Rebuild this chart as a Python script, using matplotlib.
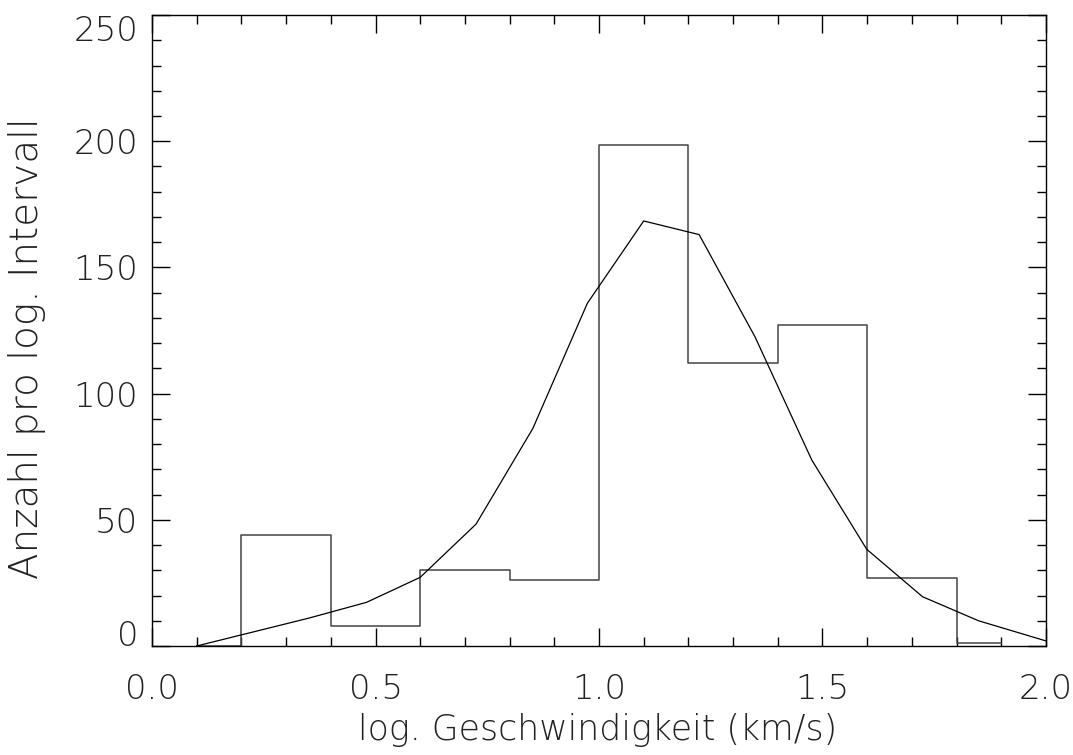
import matplotlib
matplotlib.use("Agg")
import matplotlib.pyplot as plt
from matplotlib.ticker import MultipleLocator

plt.rcParams['font.family'] = ['DejaVu Sans']
TXT = dict(fontweight=200, color='#222222')

# histogram (bin centres, counts) drawn IDL psym=10 style
hist_x = [0.1, 0.3, 0.5, 0.7, 0.9, 1.1, 1.3, 1.5, 1.7, 1.9]
hist_y = [0, 44, 8, 30, 26, 198.5, 112, 127, 27, 1]

# smooth comparison curve
curve_x = [0.1, 0.225, 0.35, 0.48, 0.6, 0.725, 0.852, 0.974, 1.1, 1.224,
           1.349, 1.476, 1.599, 1.724, 1.849, 2.0]
curve_y = [0, 5.5, 11, 17.3, 27.2, 48.3, 86.2, 135.8, 168.4, 163,
           122.5, 73.7, 38.3, 19.5, 10, 2]

fig = plt.figure(figsize=(10.73, 7.55), dpi=100)
ax = fig.add_axes([0.1417, 0.1444, 0.8331, 0.8357])

ax.step(hist_x, hist_y, where='mid', color='#444444', lw=1.1)
ax.plot(curve_x, curve_y, color='black', lw=0.9)

ax.set_xlim(0, 2.0)
ax.set_ylim(0, 250)
ax.xaxis.set_major_locator(MultipleLocator(0.5))
ax.xaxis.set_minor_locator(MultipleLocator(0.1))
ax.yaxis.set_major_locator(MultipleLocator(50))
ax.yaxis.set_minor_locator(MultipleLocator(10))
ax.xaxis.set_major_formatter(plt.FuncFormatter(lambda v, p: '%.1f' % v))

ax.tick_params(which='both', direction='in', top=True, right=True,
               width=1, colors='black')
ax.tick_params(which='major', length=13)
ax.tick_params(which='minor', length=6.5)
ax.tick_params(axis='x', which='major', pad=19.5, labelsize=24.5)
ax.tick_params(axis='y', which='major', pad=10, labelsize=24.5)
for s in ax.spines.values():
    s.set_linewidth(1)

fig.canvas.draw()
for lab in ax.get_xticklabels() + ax.get_yticklabels():
    lab.set_fontweight(200)
    lab.set_color('#222222')
# IDL keeps the end labels inside the axis range
for tick in ax.yaxis.get_major_ticks():
    if abs(tick.get_loc() - 0) < 1e-9:
        tick.label1.set_va('baseline')
    elif abs(tick.get_loc() - 250) < 1e-9:
        tick.label1.set_va('top')

fig.text(598 / 1073, 1 - 740 / 755, 'log. Geschwindigkeit (km/s)',
         ha='center', va='baseline', fontsize=25, **TXT)
fig.text(27 / 1073, 1 - 348 / 755, 'Anzahl pro log. Intervall',
         ha='center', va='center', rotation=90, fontsize=28, **TXT)

fig.savefig('out.png', dpi=100)
